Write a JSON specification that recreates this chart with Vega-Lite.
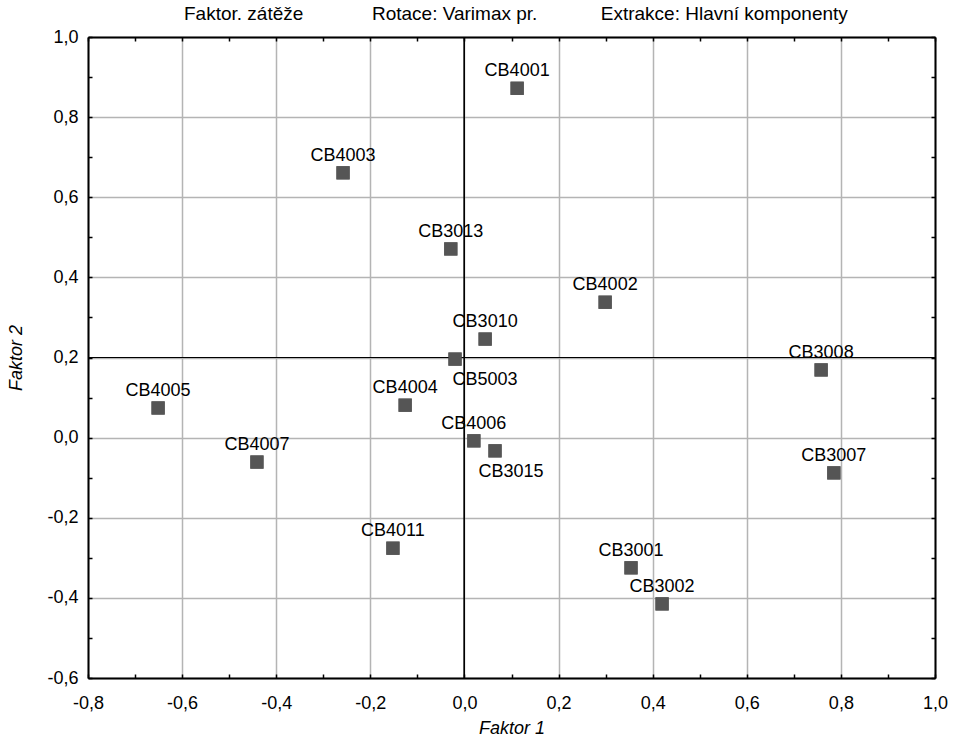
{
  "$schema": "https://vega.github.io/schema/vega-lite/v6.json",
  "width": 847,
  "height": 641,
  "autosize": "none",
  "padding": {"left": 88, "top": 37, "right": 18, "bottom": 67},
  "background": "#ffffff",
  "config": {
    "view": {"stroke": null},
    "font": "Liberation Sans",
    "axis": {"labelFontSize": 18, "labelFont": "Liberation Sans", "labelColor": "#000000"}
  },
  "title": {
    "text": "Faktor. zátěže\u00a0\u00a0\u00a0\u00a0\u00a0\u00a0\u00a0\u00a0\u00a0\u00a0\u00a0\u00a0\u00a0Rotace: Varimax pr.\u00a0\u00a0\u00a0\u00a0\u00a0\u00a0\u00a0\u00a0\u00a0\u00a0\u00a0\u00a0Extrakce: Hlavní komponenty",
    "anchor": "start",
    "dx": 176,
    "dy": 17,
    "offset": 6,
    "baseline": "alphabetic",
    "font": "Liberation Sans",
    "fontSize": 19,
    "fontWeight": "normal",
    "color": "#000000"
  },
  "data": {
    "values": [
      {"name": "CB4001", "f1": 0.112, "f2": 0.872},
      {"name": "CB4003", "f1": -0.258, "f2": 0.661},
      {"name": "CB3013", "f1": -0.029, "f2": 0.471},
      {"name": "CB4002", "f1": 0.299, "f2": 0.338},
      {"name": "CB3010", "f1": 0.044, "f2": 0.246},
      {"name": "CB5003", "f1": -0.020, "f2": 0.196},
      {"name": "CB3008", "f1": 0.758, "f2": 0.169},
      {"name": "CB4005", "f1": -0.651, "f2": 0.074},
      {"name": "CB4004", "f1": -0.126, "f2": 0.081},
      {"name": "CB4006", "f1": 0.020, "f2": -0.008},
      {"name": "CB3015", "f1": 0.065, "f2": -0.033},
      {"name": "CB4007", "f1": -0.441, "f2": -0.061},
      {"name": "CB3007", "f1": 0.785, "f2": -0.088},
      {"name": "CB4011", "f1": -0.152, "f2": -0.276},
      {"name": "CB3001", "f1": 0.354, "f2": -0.325},
      {"name": "CB3002", "f1": 0.420, "f2": -0.415}
    ]
  },
  "resolve": {"axis": {"x": "independent", "y": "independent"}},
  "layer": [
    {
      "mark": {"type": "square", "size": 175, "color": "#555555", "opacity": 1},
      "encoding": {
        "x": {
          "field": "f1", "type": "quantitative",
          "scale": {"domain": [-0.8, 1.0], "nice": false, "zero": false},
          "axis": {
            "orient": "bottom",
            "values": [-0.8,-0.7,-0.6,-0.5,-0.4,-0.3,-0.2,-0.1,0,0.1,0.2,0.3,0.4,0.5,0.6,0.7,0.8,0.9,1.0],
            "labelExpr": "abs(round(datum.value*10)) % 2 == 1 ? '' : (datum.value < -0.001 ? '-' : '') + replace(format(abs(datum.value), '.1f'), '.', ',')",
            "labelFont": "Liberation Sans", "labelFontSize": 18, "labelColor": "#000000",
            "labelPadding": 20, "labelFlush": false, "labelOverlap": false,
            "tickSize": -4, "tickColor": "#000000", "tickWidth": 1.5,
            "grid": true, "gridColor": "#b4b4b4", "gridWidth": 1.5,
            "gridOpacity": {"condition": {"test": "abs(round(datum.value*10)) % 2 == 1", "value": 0}, "value": 1},
            "domainColor": "#000000", "domainWidth": 2,
            "title": "Faktor 1", "titleFont": "Liberation Sans", "titleFontSize": 18,
            "titleFontStyle": "italic", "titleFontWeight": "normal", "titleColor": "#000000",
            "titlePadding": 7
          }
        },
        "y": {
          "field": "f2", "type": "quantitative",
          "scale": {"domain": [-0.6, 1.0], "nice": false, "zero": false},
          "axis": {
            "orient": "left",
            "values": [-0.6,-0.5,-0.4,-0.3,-0.2,-0.1,0,0.1,0.2,0.3,0.4,0.5,0.6,0.7,0.8,0.9,1.0],
            "labelExpr": "abs(round(datum.value*10)) % 2 == 1 ? '' : (datum.value < -0.001 ? '-' : '') + replace(format(abs(datum.value), '.1f'), '.', ',')",
            "labelFont": "Liberation Sans", "labelFontSize": 18, "labelColor": "#000000",
            "labelPadding": 14, "labelFlush": false, "labelOverlap": false,
            "tickSize": -4, "tickColor": "#000000", "tickWidth": 1.5,
            "grid": true, "gridColor": "#b4b4b4", "gridWidth": 1.5,
            "gridOpacity": {"condition": {"test": "abs(round(datum.value*10)) % 2 == 1", "value": 0}, "value": 1},
            "domainColor": "#000000", "domainWidth": 2,
            "title": "Faktor 2", "titleFont": "Liberation Sans", "titleFontSize": 18,
            "titleFontStyle": "italic", "titleFontWeight": "normal", "titleColor": "#000000",
            "titlePadding": 21
          }
        }
      }
    },
    {
      "mark": {"type": "text", "font": "Liberation Sans", "fontSize": 18, "color": "#000000", "baseline": "alphabetic", "align": "center", "dy": -12},
      "transform": [{"filter": "datum.name != 'CB5003' && datum.name != 'CB3015'"}],
      "encoding": {
        "x": {
          "field": "f1", "type": "quantitative",
          "axis": {
            "orient": "top",
            "values": [-0.8,-0.7,-0.6,-0.5,-0.4,-0.3,-0.2,-0.1,0,0.1,0.2,0.3,0.4,0.5,0.6,0.7,0.8,0.9,1.0],
            "labels": false, "grid": false, "title": null,
            "tickSize": -4, "tickColor": "#000000", "tickWidth": 1.5,
            "domainColor": "#000000", "domainWidth": 2
          }
        },
        "y": {
          "field": "f2", "type": "quantitative",
          "axis": {
            "orient": "right",
            "values": [-0.6,-0.5,-0.4,-0.3,-0.2,-0.1,0,0.1,0.2,0.3,0.4,0.5,0.6,0.7,0.8,0.9,1.0],
            "labels": false, "grid": false, "title": null,
            "tickSize": -4, "tickColor": "#000000", "tickWidth": 1.5,
            "domainColor": "#000000", "domainWidth": 2
          }
        },
        "text": {"field": "name"}
      }
    },
    {
      "mark": {"type": "rule", "color": "#000000", "strokeWidth": 1},
      "encoding": {"x": {"datum": 0, "type": "quantitative", "axis": null}}
    },
    {
      "mark": {"type": "rule", "color": "#000000", "strokeWidth": 1},
      "encoding": {"y": {"datum": 0.2, "type": "quantitative", "axis": null}}
    },
    {
      "mark": {"type": "square", "size": 175, "color": "#555555", "opacity": 1},
      "encoding": {
        "x": {"field": "f1", "type": "quantitative", "axis": null},
        "y": {"field": "f2", "type": "quantitative", "axis": null}
      }
    },
    {
      "transform": [{"filter": "datum.name == 'CB5003'"}],
      "mark": {"type": "text", "font": "Liberation Sans", "fontSize": 18, "color": "#000000", "baseline": "alphabetic", "align": "center", "dx": 30, "dy": 26},
      "encoding": {
        "x": {"field": "f1", "type": "quantitative", "axis": null},
        "y": {"field": "f2", "type": "quantitative", "axis": null},
        "text": {"field": "name"}
      }
    },
    {
      "transform": [{"filter": "datum.name == 'CB3015'"}],
      "mark": {"type": "text", "font": "Liberation Sans", "fontSize": 18, "color": "#000000", "baseline": "alphabetic", "align": "center", "dx": 16, "dy": 26},
      "encoding": {
        "x": {"field": "f1", "type": "quantitative", "axis": null},
        "y": {"field": "f2", "type": "quantitative", "axis": null},
        "text": {"field": "name"}
      }
    }
  ]
}
